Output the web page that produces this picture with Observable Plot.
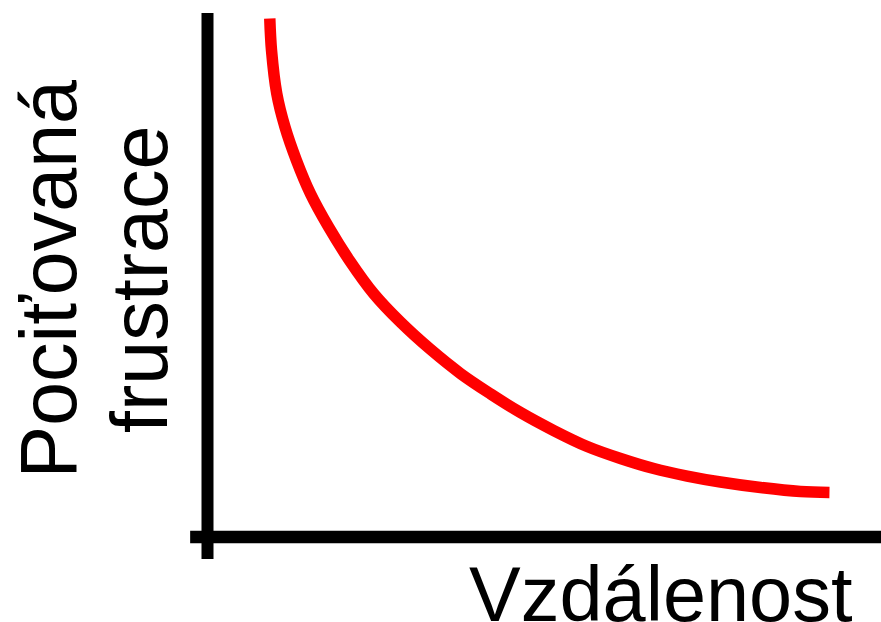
<!DOCTYPE html>
<html>
<head>
<meta charset="utf-8">
<script src="https://cdn.jsdelivr.net/npm/d3@7"></script>
<script src="https://cdn.jsdelivr.net/npm/@observablehq/plot@0.6"></script>
<style>
  html, body { margin: 0; padding: 0; background: #fff; }
  svg { display: block; }
</style>
</head>
<body>
<div id="chart"></div>
<script>
// Curve: distance (x) vs perceived frustration (y), arbitrary 0–100 units
const distance = [9.24, 9.50, 10.28, 11.50, 13.20, 15.28, 17.98, 21.07, 24.67, 28.64, 33.09, 37.54, 41.99, 46.44, 51.38, 56.34, 61.28, 66.22, 71.17, 76.11, 82.05, 87.98, 92.28];
const frustration = [99.04, 92.93, 84.66, 78.28, 71.92, 65.56, 59.18, 52.82, 46.46, 41.03, 35.82, 31.23, 27.35, 23.78, 20.34, 17.29, 15.00, 13.08, 11.65, 10.51, 9.46, 8.69, 8.50];
const xLabel = "Vzdálenost";
const yLabel = "Pociťovaná\nfrustrace";

const curve = distance.map((d, i) => ({distance: d, frustration: frustration[i]}));

const font = "'Liberation Sans', Arial, Helvetica, sans-serif";

const chart = Plot.plot({
  width: 881,
  height: 622,
  marginLeft: 207,
  marginRight: 0,
  marginTop: 13,
  marginBottom: 85.5,
  style: {fontFamily: font, background: "#fff"},
  x: {domain: [0, 100], axis: null},
  y: {domain: [0, 100], axis: null},
  marks: [
    // axes lines (crossing)
    Plot.ruleX([0], {y1: -4.3, y2: 100, stroke: "black", strokeWidth: 12}),
    Plot.ruleY([0], {x1: -2.5, x2: 100, stroke: "black", strokeWidth: 12.5}),
    Plot.line(curve, {x: "distance", y: "frustration", stroke: "#ff0000", strokeWidth: 11.5, curve: "catmull-rom", strokeLinecap: "butt"}),
    Plot.text([xLabel], {frameAnchor: "bottom-right", text: d => d, textAnchor: "end", lineAnchor: "bottom", dx: -29, dy: 83.5, fontSize: 77.5, fill: "black"}),
    Plot.text([yLabel], {frameAnchor: "left", text: d => d, rotate: -90, textAnchor: "middle", lineAnchor: "bottom", lineHeight: 1.16, dx: -40.3, dy: 4, fontSize: 79, fill: "black"})
  ]
});
document.getElementById("chart").appendChild(chart);
</script>
</body>
</html>
